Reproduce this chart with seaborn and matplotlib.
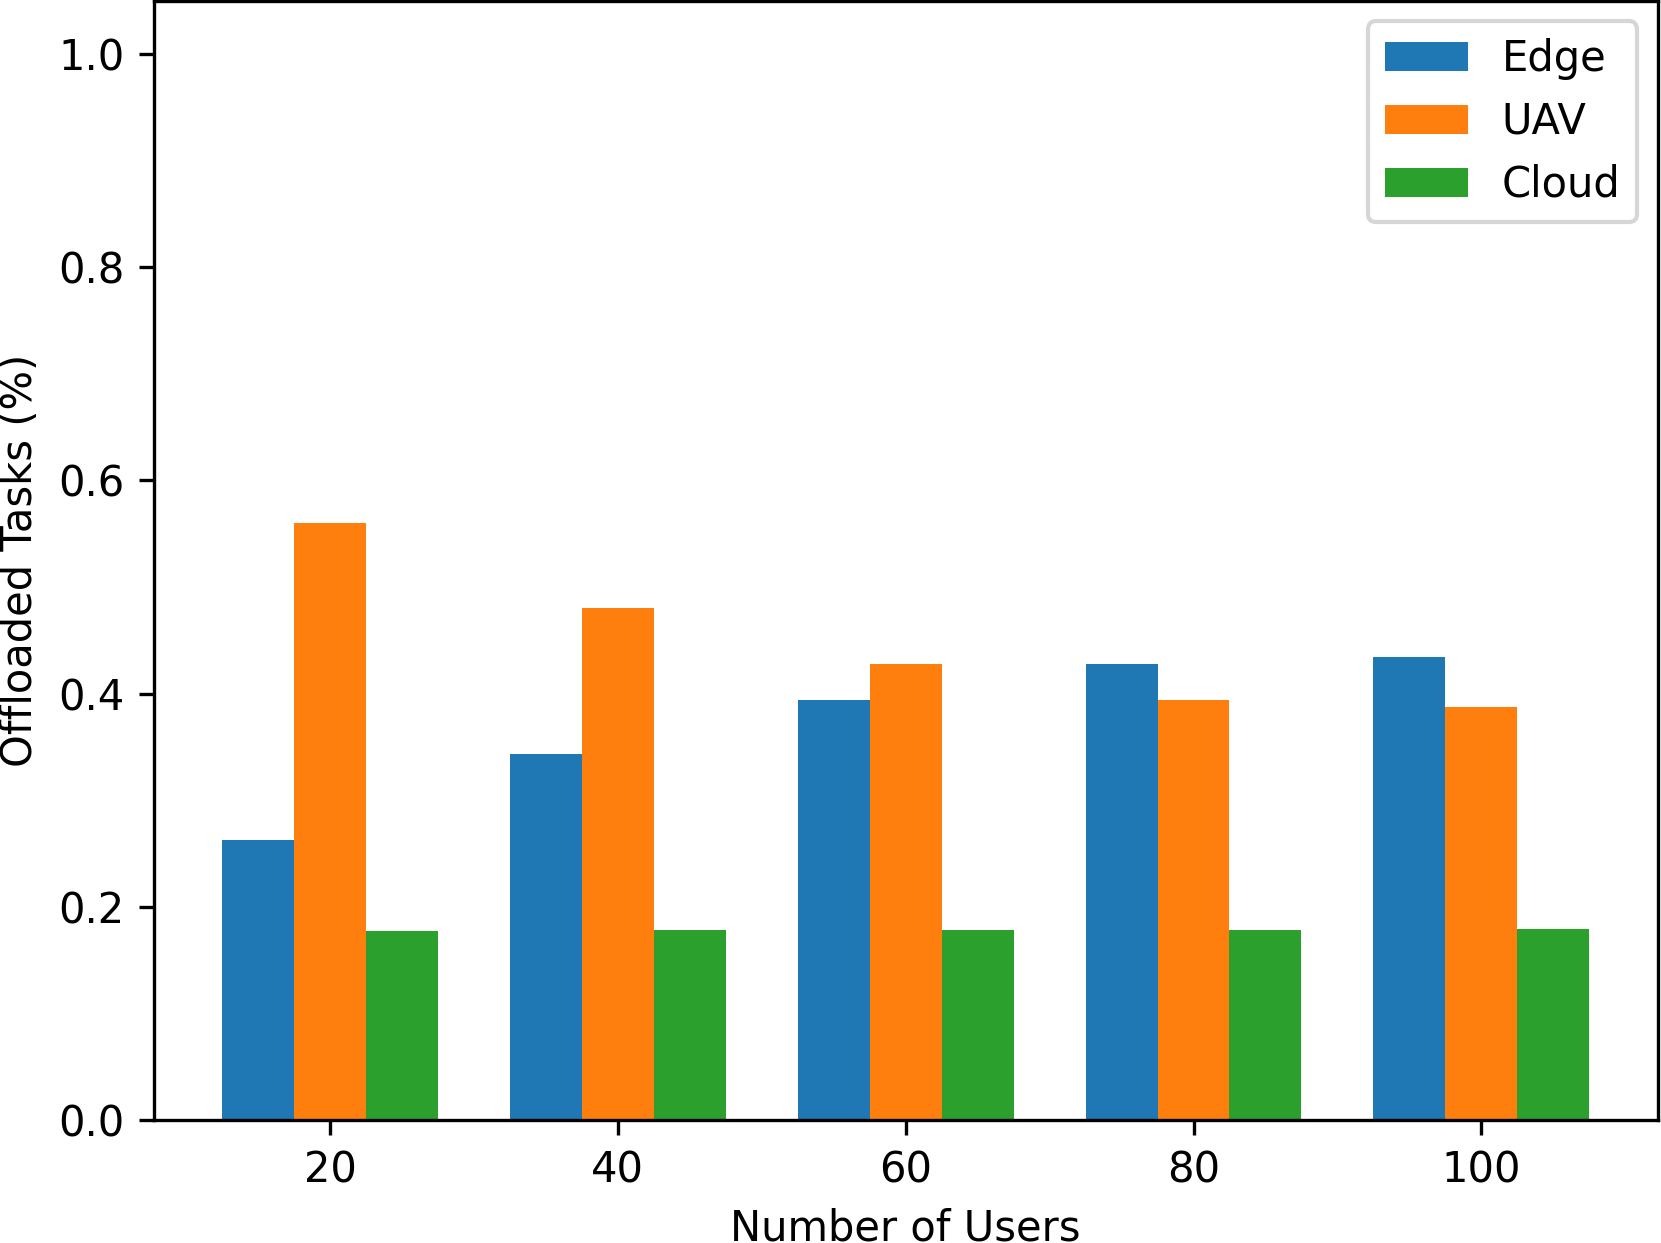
import matplotlib
matplotlib.use("Agg")
import matplotlib.pyplot as plt
import seaborn as sns
import pandas as pd

users = ["20", "40", "60", "80", "100"]
series = ["Edge", "UAV", "Cloud"]
edge = [0.263, 0.343, 0.394, 0.428, 0.434]
uav = [0.560, 0.480, 0.428, 0.394, 0.387]
cloud = [0.177, 0.178, 0.178, 0.178, 0.179]
colors = ["#1f77b4", "#ff7f0e", "#2ca02c"]

rows = []
for name, vals in zip(series, [edge, uav, cloud]):
    for u, v in zip(users, vals):
        rows.append({"Users": u, "Type": name, "Value": v})
df = pd.DataFrame(rows)

plt.rcParams["font.family"] = ["DejaVu Sans"]
plt.rcParams["font.size"] = 10

fig = plt.figure(figsize=(1661 / 300, 1243 / 300), dpi=300)
ax = fig.add_axes([0.0925, 0.099, 0.998 - 0.0925, 0.9995 - 0.099])

sns.barplot(data=df, x="Users", y="Value", hue="Type", order=users,
            hue_order=series, palette=colors, saturation=1, width=0.75,
            errorbar=None, ax=ax)

ax.set_xlim(-0.6125, 4.6125)
ax.set_ylim(0, 1.05)
ax.set_yticks([0.0, 0.2, 0.4, 0.6, 0.8, 1.0])
ax.set_xlabel("Number of Users")
ax.set_ylabel("Offloaded Tasks (%)")
handles, labels = ax.get_legend_handles_labels()
ax.legend(handles, labels, loc="upper right", title=None)

fig.savefig("out.png", dpi=300)
